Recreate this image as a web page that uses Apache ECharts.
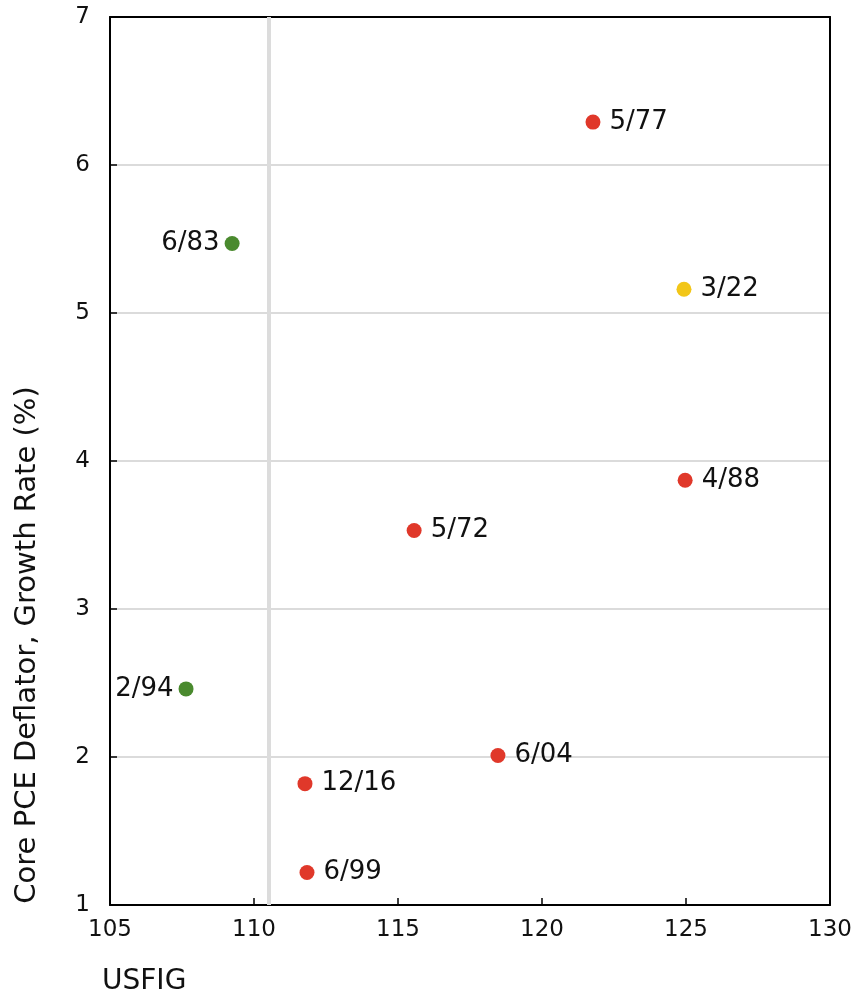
<!DOCTYPE html>
<html>
<head>
<meta charset="utf-8">
<script src="https://cdn.jsdelivr.net/npm/echarts@6/dist/echarts.min.js"></script>
<style>
html,body{margin:0;padding:0;background:#fff;}
#chart{width:852px;height:1001px;}
</style>
</head>
<body>
<div id="chart"></div>
<script>
// Data
const redLabels = ['5/77', '4/88', '5/72', '6/04', '12/16', '6/99'];
const redX = [121.77, 124.97, 115.56, 118.47, 111.77, 111.84];
const redY = [6.29, 3.87, 3.53, 2.01, 1.82, 1.22];

const greenLabels = ['6/83', '2/94'];
const greenX = [109.24, 107.64];
const greenY = [5.47, 2.46];

const yellowLabels = ['3/22'];
const yellowX = [124.93];
const yellowY = [5.16];

const refLineX = 110.5;

const xTicks = [105, 110, 115, 120, 125, 130];
const yTicks = [1, 2, 3, 4, 5, 6, 7];

const xTitle = 'USFIG';
const yTitle = 'Core PCE Deflator, Growth Rate (%)';

function build(labels, xs, ys) {
  return labels.map((l, i) => ({ name: l, value: [xs[i], ys[i]] }));
}

const FONT = 'DejaVu Sans';
const labelStyle = (pos, dist) => ({
  show: true,
  position: pos,
  distance: dist,
  formatter: p => p.name,
  color: '#111',
  fontFamily: FONT,
  fontSize: 26
});

const xMin = xTicks[0], xMax = xTicks[xTicks.length - 1];
const yMin = yTicks[0], yMax = yTicks[yTicks.length - 1];

const chart = echarts.init(document.getElementById('chart'), null, { renderer: 'canvas' });
chart.setOption({
  animation: false,
  backgroundColor: '#fff',
  grid: { left: 110, right: 22, top: 17, bottom: 96, show: false, containLabel: false, outerBoundsMode: 'none' },
  xAxis: [{
    type: 'value',
    min: xMin, max: xMax, interval: 5,
    axisLine: { show: true, lineStyle: { color: '#000', width: 2 } },
    axisTick: { show: true, inside: true, length: 7, lineStyle: { color: '#000', width: 1.5 } },
    splitLine: { show: false },
    axisLabel: { margin: 14, color: '#111', fontFamily: FONT, fontSize: 23 }
  }, {
    type: 'value', position: 'top',
    min: xMin, max: xMax, interval: 5,
    axisLine: { show: true, lineStyle: { color: '#000', width: 2 } },
    axisTick: { show: false }, axisLabel: { show: false }, splitLine: { show: false }
  }],
  yAxis: [{
    type: 'value',
    min: yMin, max: yMax, interval: 1,
    axisLine: { show: true, lineStyle: { color: '#000', width: 2 } },
    axisTick: { show: true, inside: true, length: 7, lineStyle: { color: '#000', width: 1.5 } },
    splitLine: { show: true, lineStyle: { color: '#cfcfcf', width: 1.5 } },
    axisLabel: { margin: 20, color: '#111', fontFamily: FONT, fontSize: 23 }
  }, {
    type: 'value', position: 'right',
    min: yMin, max: yMax, interval: 1,
    axisLine: { show: true, lineStyle: { color: '#000', width: 2 } },
    axisTick: { show: false }, axisLabel: { show: false }, splitLine: { show: false }
  }],
  graphic: [
    { type: 'text', left: 102, top: 968, style: { text: xTitle, fontFamily: FONT, fontSize: 28, fill: '#111' } },
    { type: 'text', x: 27, y: 645, rotation: Math.PI / 2, style: { text: yTitle, fontFamily: FONT, fontSize: 29, fill: '#111', textAlign: 'center', textVerticalAlign: 'middle' } }
  ],
  series: [
    {
      type: 'scatter', name: 'ref', data: [],
      markLine: {
        silent: true, symbol: 'none', label: { show: false },
        lineStyle: { color: '#dcdcdc', width: 4, type: 'solid' },
        data: [{ xAxis: refLineX }]
      },
      z: 1
    },
    {
      type: 'scatter', name: 'red', symbolSize: 15, z: 3,
      itemStyle: { color: '#e0382a', opacity: 1 },
      label: labelStyle('right', 9),
      data: build(redLabels, redX, redY)
    },
    {
      type: 'scatter', name: 'green', symbolSize: 15, z: 3,
      itemStyle: { color: '#4a8a2e', opacity: 1 },
      label: labelStyle('left', 5),
      data: build(greenLabels, greenX, greenY)
    },
    {
      type: 'scatter', name: 'yellow', symbolSize: 15, z: 3,
      itemStyle: { color: '#f2c618', opacity: 1 },
      label: labelStyle('right', 9),
      data: build(yellowLabels, yellowX, yellowY)
    }
  ]
});
</script>
</body>
</html>
